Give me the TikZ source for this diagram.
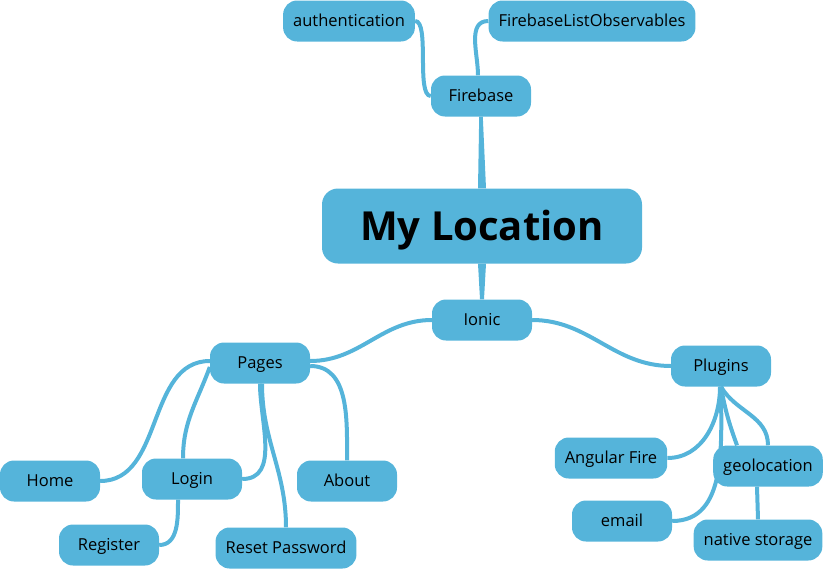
\documentclass[tikz,border=0pt]{standalone}
\usepackage{fontspec}
\setmainfont{Open Sans}
\definecolor{mapblue}{HTML}{55B4DA}

\begin{document}
\begin{tikzpicture}[x=1pt,y=-1pt,
  topic/.style={fill=mapblue, rounded corners=14pt, minimum width=100pt,
    minimum height=41pt, inner xsep=10pt, text height=11.8pt, text depth=0pt,
    font=\fontsize{16.5}{19}\selectfont},
  root/.style={fill=mapblue, rounded corners=16pt, minimum width=320pt,
    minimum height=75pt, text height=29pt, text depth=0pt,
    font=\fontsize{40}{48}\selectfont\bfseries},
  link/.style={draw=mapblue, line width=4pt},
  stem/.style={fill=mapblue}]
  \useasboundingbox (0,0) rectangle (824,570);

  % nodes
  \node[root] (main) at (482,226) {My Location};
  \node[topic] (firebase) at (481,96) {Firebase};
  \node[topic] (auth) at (349,21) {authentication};
  \node[topic] (flo) at (592,21) {FirebaseListObservables};
  \node[topic] (ionic) at (482,320) {Ionic};
  \node[topic] (pages) at (260,363) {Pages};
  \node[topic] (plugins) at (721,366) {Plugins};
  \node[topic] (home) at (50,481) {Home};
  \node[topic] (login) at (192,479) {Login};
  \node[topic] (about) at (347,481) {About};
  \node[topic] (register) at (109,545) {Register};
  \node[topic] (reset) at (286,548) {Reset Password};
  \node[topic] (angular) at (611,458) {Angular Fire};
  \node[topic] (geo) at (768,466) {geolocation};
  \node[topic] (email) at (622,521) {email};
  \node[topic] (storage) at (758,540) {native storage};

  % links
  \fill[stem] ([xshift=-4pt]main.north) -- ([xshift=-1.8pt]firebase.south)
    -- ([xshift=1.8pt]firebase.south) -- ([xshift=4pt]main.north) -- cycle;
  \fill[stem] ([xshift=-4pt]main.south) -- ([xshift=-2pt]ionic.north)
    -- ([xshift=2pt]ionic.north) -- ([xshift=4pt]main.south) -- cycle;
  \draw[link] (firebase.west) to[out=180, in=0, looseness=0.5] (auth.east);
  \draw[link] ([xshift=-3pt]firebase.north) to[out=90, in=180] (flo.west);
  \draw[link] (ionic.west) to[out=180, in=0] ([yshift=2pt]pages.east);
  \draw[link] (ionic.east) to[out=0, in=180] (plugins.west);
  \draw[link] ([yshift=2pt]pages.west) to[out=180, in=0] (home.east);
  \draw[link] ([yshift=-4pt]pages.west) to[out=250, in=90] ([xshift=-9pt]login.north);
  \draw[link] (pages.south) to[out=-90, in=0] (login.east);
  \draw[link] ([xshift=2pt]pages.south) to[out=-90, in=90] (reset.north);
  \draw[link] ([yshift=-3pt]pages.east) to[out=0, in=90] (about.north);
  \draw[link] ([xshift=-14pt]login.south) to[out=-90, in=0] (register.east);
  \draw[link] ([xshift=-1pt]plugins.south) to[out=-90, in=0] (angular.east);
  \draw[link] (plugins.south) to[out=-90, in=0] (email.east);
  \draw[link] (plugins.south) to[out=-80, in=110] ([xshift=-31pt]geo.north);
  \draw[link] (plugins.south) to[out=-60, in=90] (geo.north);
  \draw[link] ([xshift=-11pt]geo.south) -- (storage.north);
\end{tikzpicture}
\end{document}
